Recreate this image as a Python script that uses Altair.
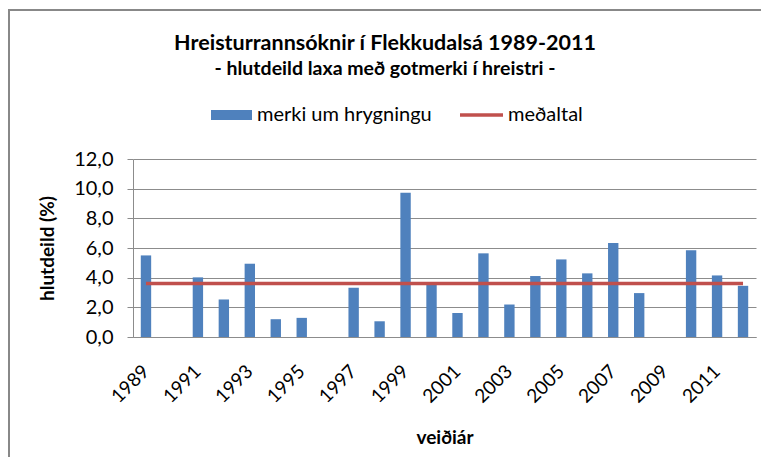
import altair as alt
import pandas as pd

# ---- data ----
years = ["1989", "1990", "1991", "1992", "1993", "1994", "1995", "1996",
         "1997", "1998", "1999", "2000", "2001", "2002", "2003", "2004",
         "2005", "2006", "2007", "2008", "2009", "2010", "2011", "2012"]
share = [5.50, None, 4.02, 2.53, 4.94, 1.20, 1.29, None,
         3.32, 1.06, 9.72, 3.54, 1.62, 5.64, 2.19, 4.11,
         5.23, 4.29, 6.34, 2.96, None, 5.84, 4.15, 3.45]
label_years = ["1989", "1991", "1993", "1995", "1997", "1999",
               "2001", "2003", "2005", "2007", "2009", "2011"]
y_ticks = [0, 2, 4, 6, 8, 10, 12]
mean_value = 3.61
mean_start = "1989"
mean_end = "2012"

title_text = "Hreisturrannsóknir í Flekkudalsá 1989-2011"
subtitle_text = "- hlutdeild laxa með gotmerki í hreistri -"
legend_labels = ["merki um hrygningu", "meðaltal"]
y_title = "hlutdeild (%)"
x_title = "veiðiár"

FONT = "Lato"
BLUE = "#4F81BD"
RED = "#C0504D"
GRID = "#8C8C8C"
FRAME = "#888888"

W, H = 623, 178
PAD = {"left": 125, "top": 151, "right": 5, "bottom": 120}

df = pd.DataFrame({"year": years, "share": share})
mean_df = pd.DataFrame({"start": [mean_start], "end": [mean_end], "mean": [mean_value]})
one = pd.DataFrame({"a": [0]})

x_scale = alt.Scale(domain=years, paddingInner=0.6, paddingOuter=0.3)
y_scale = alt.Scale(domain=[0, 12])

x_axis = alt.Axis(title=x_title, values=label_years, labelAngle=-45,
                  labelAlign="right", labelBaseline="middle",
                  labelPadding=31, ticks=False, tickSize=0,
                  domainColor=GRID, grid=False,
                  labelFontSize=19, titleFontSize=19,
                  titleY=100, titleBaseline="middle")
y_axis = alt.Axis(title=y_title, values=y_ticks,
                  labelExpr="replace(format(datum.value, '.1f'), '.', ',')",
                  grid=True, gridColor=GRID, tickColor=GRID, tickSize=6,
                  domainColor=GRID, labelPadding=14,
                  labelFontSize=20, titleFontSize=19,
                  titleX=-86, titleY=H / 2, titleAngle=-90,
                  titleAlign="center", titleBaseline="middle")

bars = alt.Chart(df).mark_bar(color=BLUE).encode(
    x=alt.X("year:O", scale=x_scale, axis=x_axis),
    y=alt.Y("share:Q", scale=y_scale, axis=y_axis),
)

mean_rule = alt.Chart(mean_df).mark_rule(color=RED, strokeWidth=3.5).encode(
    x=alt.X("start:O", scale=x_scale, axis=x_axis),
    x2="end:O",
    y=alt.Y("mean:Q", scale=y_scale, axis=y_axis),
)

# outer chart frame: top and left edges, kept inside the drawing
right_edge = W + PAD["right"]
bottom_edge = H + PAD["bottom"]
frame_top = alt.Chart(one).mark_rule(color=FRAME, strokeWidth=2).encode(
    x=alt.value(-124), x2=alt.value(right_edge), y=alt.value(-149))
frame_left = alt.Chart(one).mark_rule(color=FRAME, strokeWidth=2).encode(
    x=alt.value(-124), y=alt.value(-150), y2=alt.value(bottom_edge))

title_mark = alt.Chart(one).mark_text(
    text=title_text, font=FONT, fontSize=21.5, fontWeight="bold",
    align="center", baseline="alphabetic", color="black").encode(
    x=alt.value(252), y=alt.value(-109))
subtitle_mark = alt.Chart(one).mark_text(
    text=subtitle_text, font=FONT, fontSize=19.5, fontWeight="bold",
    align="center", baseline="alphabetic", color="black").encode(
    x=alt.value(252), y=alt.value(-84))

leg_rect = alt.Chart(one).mark_rect(color=BLUE).encode(
    x=alt.value(78), x2=alt.value(119), y=alt.value(-49), y2=alt.value(-39))
leg_text1 = alt.Chart(one).mark_text(
    text=legend_labels[0], font=FONT, fontSize=20, align="left",
    baseline="middle", color="black").encode(x=alt.value(124), y=alt.value(-44))
leg_line = alt.Chart(one).mark_rule(color=RED, strokeWidth=3.5).encode(
    x=alt.value(327), x2=alt.value(370), y=alt.value(-44))
leg_text2 = alt.Chart(one).mark_text(
    text=legend_labels[1], font=FONT, fontSize=20, align="left",
    baseline="middle", color="black").encode(x=alt.value(375), y=alt.value(-44))

chart = alt.layer(
    frame_top, frame_left, bars, mean_rule,
    title_mark, subtitle_mark, leg_rect, leg_text1, leg_line, leg_text2,
).properties(
    width=W, height=H,
    autosize=alt.AutoSizeParams(type="none"),
    padding=PAD,
).configure(font=FONT).configure_axis(
    labelFont=FONT, titleFont=FONT, labelColor="black", titleColor="black",
    titleFontWeight="bold",
).configure_view(stroke=None)

chart.save("out.html", embed_options={"renderer": "svg", "actions": False})
